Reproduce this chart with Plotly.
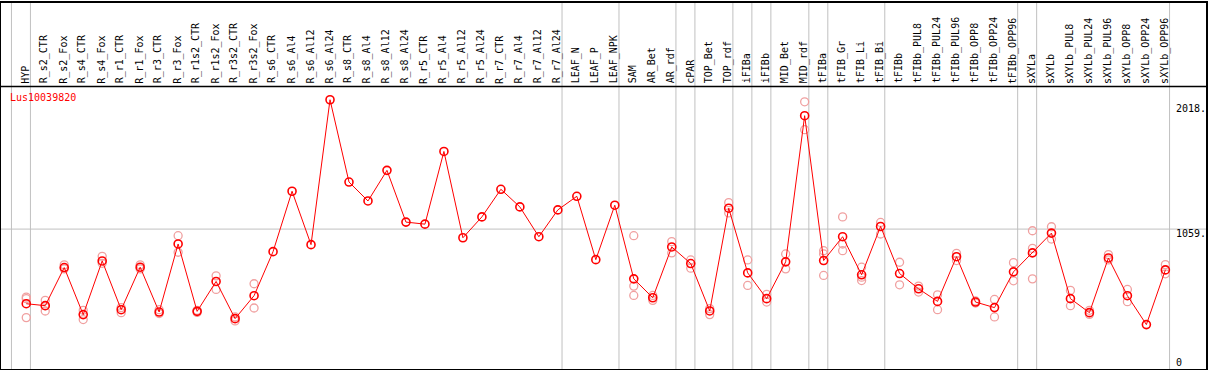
import plotly.graph_objects as go

categories = ["HYP", "R_s2_CTR", "R_s2_Fox", "R_s4_CTR", "R_s4_Fox", "R_r1_CTR", "R_r1_Fox",
              "R_r3_CTR", "R_r3_Fox", "R_r1s2_CTR", "R_r1s2_Fox", "R_r3s2_CTR", "R_r3s2_Fox",
              "R_s6_CTR", "R_s6_Al4", "R_s6_Al12", "R_s6_Al24", "R_s8_CTR", "R_s8_Al4",
              "R_s8_Al12", "R_s8_Al24", "R_r5_CTR", "R_r5_Al4", "R_r5_Al12", "R_r5_Al24",
              "R_r7_CTR", "R_r7_Al4", "R_r7_Al12", "R_r7_Al24", "LEAF_N", "LEAF_P", "LEAF_NPK",
              "SAM", "AR_Bet", "AR_rdf", "cPAR", "TOP_Bet", "TOP_rdf", "iFIBa", "iFIBb",
              "MID_Bet", "MID_rdf", "tFIBa", "tFIB_Gr", "tFIB_Li", "tFIB_Bi", "tFIBb",
              "tFIBb_PUL8", "tFIBb_PUL24", "tFIBb_PUL96", "tFIBb_OPP8", "tFIBb_OPP24",
              "tFIBb_OPP96", "sXYLa", "sXYLb", "sXYLb_PUL8", "sXYLb_PUL24", "sXYLb_PUL96",
              "sXYLb_OPP8", "sXYLb_OPP24", "sXYLb_OPP96"]

means = [483, 468, 762, 399, 813, 437, 765, 419, 944, 424, 655, 368, 545, 885, 1351, 939,
         2057, 1422, 1276, 1512, 1113, 1097, 1658, 992, 1153, 1366, 1230, 1000, 1207, 1312,
         823, 1243, 675, 529, 921, 793, 427, 1220, 721, 522, 806, 1934, 816, 1000, 706, 1079,
         716, 598, 501, 846, 496, 453, 729, 875, 1028, 522, 414, 836, 545, 322, 744]

replicates = [[534, 522, 376], [509, 427, 468], [783, 752], [432, 361], [849, 795], [453, 414],
              [783, 752], [437, 407], [1008, 880], [432, 416], [698, 593], [381, 350], [637, 450],
              [], [], [], [], [], [], [], [], [], [], [], [], [], [], [], [], [], [], [],
              [1008, 619, 547], [547, 509], [962, 875], [821, 757], [445, 399], [1263, 1184],
              [821, 624], [555, 496], [867, 752], [2041, 1826], [892, 867, 701],
              [1153, 944, 892], [765, 688, 662], [1110, 1021], [803, 629], [619, 573],
              [552, 437], [872, 816], [504, 488], [516, 381], [800, 660], [1046, 910, 675],
              [1077, 982], [586, 468], [432, 401], [862, 821], [593, 499], [], [785, 714]]

# index of last category in each group (separator drawn right after it)
group_ends = [-1, 0, 28, 31, 34, 35, 37, 38, 39, 41, 42, 45, 52, 53, 60]

tick_values = [0, 1059, 2018]
tick_labels = ["0", "1059.", "2018."]
gene = "Lus10039820"

# layout constants
HEADER_Y = 2159      # value at which the header separator line sits
Y_RANGE = [-20.7, 2803.5]
X_RANGE = [-1.33, 62.14]
MONO = "DejaVu Sans Mono"

xs = list(range(len(categories)))
rep_x, rep_y = [], []
for i, reps in enumerate(replicates):
    for v in reps:
        rep_x.append(i)
        rep_y.append(v)

fig = go.Figure()
fig.add_trace(go.Scatter(x=rep_x, y=rep_y, mode="markers",
                         marker=dict(symbol="circle-open", size=8, color="#f0a0a0",
                                     line=dict(width=1.3, color="#f0a0a0")),
                         hoverinfo="skip", showlegend=False))
fig.add_trace(go.Scatter(x=xs, y=means, mode="lines+markers",
                         line=dict(color="#ff0000", width=1),
                         marker=dict(symbol="circle-open", size=8, color="#ff0000",
                                     line=dict(width=1.6, color="#ff0000")),
                         showlegend=False))

shapes = []
for g in group_ends:
    shapes.append(dict(type="line", xref="x", yref="y", x0=g + 0.22, x1=g + 0.22,
                       y0=Y_RANGE[0], y1=Y_RANGE[1], line=dict(color="#c0c0c0", width=1),
                       layer="below"))
shapes.append(dict(type="line", xref="x", yref="y", x0=X_RANGE[0], x1=X_RANGE[1],
                   y0=tick_values[1], y1=tick_values[1], line=dict(color="#c0c0c0", width=1),
                   layer="below"))
shapes.append(dict(type="line", xref="x", yref="y", x0=X_RANGE[0], x1=X_RANGE[1],
                   y0=HEADER_Y, y1=HEADER_Y, line=dict(color="black", width=1.5)))

annotations = []
for i, c in enumerate(categories):
    annotations.append(dict(x=i, y=HEADER_Y, xref="x", yref="y", text=c, textangle=-90,
                            showarrow=False, xanchor="center", yanchor="bottom",
                            xshift=-1, yshift=1, font=dict(family=MONO, size=10, color="black")))
for v, t in zip(tick_values, tick_labels):
    annotations.append(dict(x=1, y=v, xref="paper", yref="y", text=t, showarrow=False,
                            xanchor="left", yanchor="middle",
                            xshift=-32, yshift=4 if v == 0 else -4,
                            font=dict(family=MONO, size=10, color="black")))
annotations.append(dict(x=0, y=HEADER_Y, xref="paper", yref="y", text=gene, showarrow=False,
                        xanchor="left", yanchor="top", xshift=7, yshift=-3,
                        font=dict(family=MONO, size=10, color="#ff0000")))

fig.update_layout(
    width=1209, height=370,
    margin=dict(l=1, r=1, t=1, b=1),
    paper_bgcolor="white", plot_bgcolor="white",
    xaxis=dict(range=X_RANGE, showgrid=False, zeroline=False, showticklabels=False,
               ticks="", showline=True, linecolor="black", linewidth=1.5, mirror=True),
    yaxis=dict(range=Y_RANGE, showgrid=False, zeroline=False, showticklabels=False,
               ticks="", showline=True, linecolor="black", linewidth=1.5, mirror=True),
    shapes=shapes, annotations=annotations,
)

fig.write_html("out.html", config={"displayModeBar": False},
               post_script="document.body.style.margin='0';document.body.style.overflow='hidden';")
